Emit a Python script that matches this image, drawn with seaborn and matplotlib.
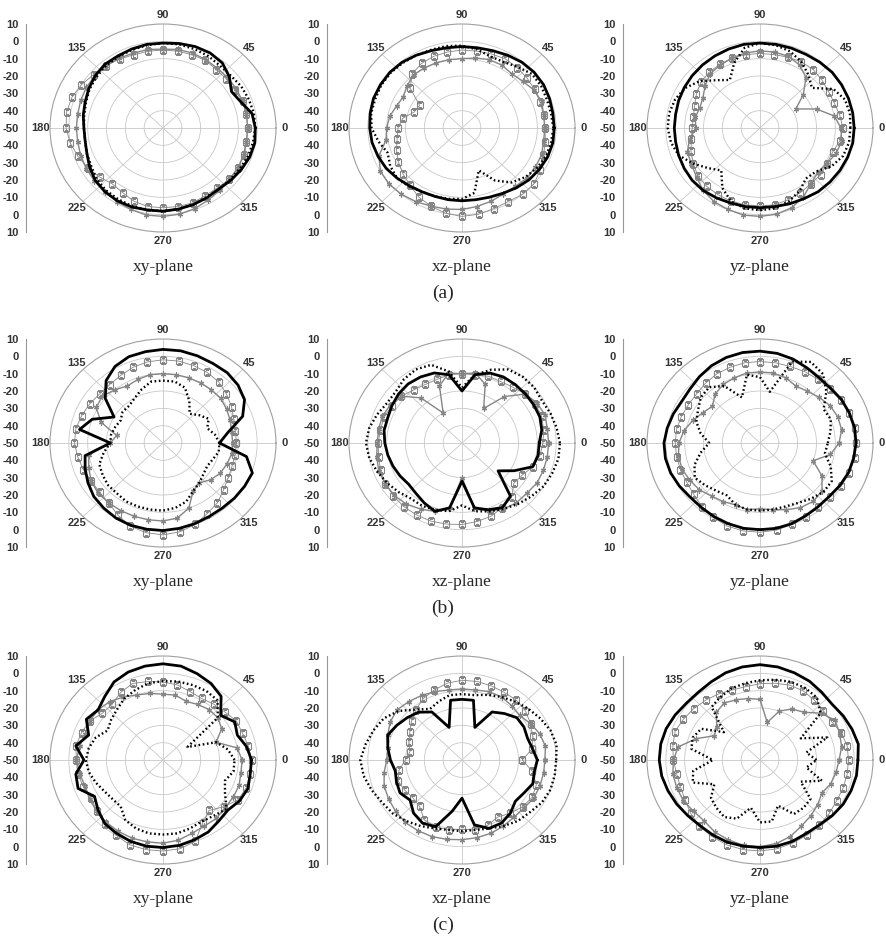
import numpy as np
import pandas as pd
import matplotlib
matplotlib.use('Agg')
import matplotlib.pyplot as plt
import seaborn as sns

# angles in degrees, one value every 10 degrees
angles = list(range(0, 360, 10))

# (a) radiation patterns, dB
a_xy_solid = [-1, -2, -6, -8, -4, -1, 0, 0, -0.5, -1, -1, -1.5, -2, -2, -3, -4.5, -6, -7, -8, -8,
              -7, -5, -3, -2, -1.5, -1.5, -2, -2, -2.5, -3, -3.5, -4, -3, -2, -1, -0.5]
a_xy_dotted = [-1, -1, -1.5, -2, -3, -3, -2, -1.5, -1, -1, -1.5, -2, -2.5, -3, -4, -5, -6.5, -7.5, -8, -8,
               -7, -6, -4, -3, -2.5, -2, -2, -2, -2.5, -3, -4, -4, -3.5, -3, -2, -1.5]
a_xy_squares = [-5, -5, -5, -6, -6, -6, -5, -5, -5, -5, -5, -5, -4, -3, -2, 0, 1.5, 2, 1.5, 0,
                -2, -4, -6, -8, -7, -5, -4, -4, -4, -4, -5, -5, -4, -4, -4, -5]
a_xy_stars = [-5, -5, -5, -5, -5, -5, -4.5, -4, -4, -4.5, -4, -4, -3.5, -3, -3, -3, -3.5, -4, -4, -4,
              -3.5, -3, -2.5, -2, -1, 0, 1, 1, 0.5, -0.5, -2, -3, -4, -4, -4.5, -5]

a_xz_solid = [-1, -1, -0.5, 0, 0, -0.5, -1.5, -2.5, -3, -3, -3, -2.5, -1.5, -0.5, 0, 0, 0, -0.5, -1, -1.5,
              -2.5, -3.5, -5, -6.5, -7.5, -8, -8, -8, -8, -7.5, -6.5, -5, -3.5, -2.5, -1.5, -1]
a_xz_dotted = [-1.5, -2, -2, -1.5, -1.5, -4, -6, -6, -4, -2.5, -2, -2, -1.5, -1, -0.5, -0.5, -1, -1, -2, -5,
               -8, -6, -5, -6, -7.5, -8, -8.5, -9, -12, -24, -15, -9, -6, -4, -2.5, -2]
a_xz_squares = [-6, -6, -6, -5.5, -5, -4.5, -4, -4.5, -5, -5, -5.5, -6, -7, -9, -14, -24, -23, -18, -16, -15,
                -13, -11, -9, -7, -4, -2, 0, 1, 0.5, -0.5, -1, 0, 0, -2, -4, -5]
a_xz_stars = [-6, -6, -5, -6, -8, -9, -8, -8, -9, -10, -10, -10, -10, -10, -12, -14, -13, -11, -10, -9,
              -3, 0, 0.5, 0, -1, -2, -2.5, -3, -4, -5, -6, -6, -5, -5, -5, -6]

a_yz_solid = [0, 0, 0, 0, 0, -0.5, -1, -1, -1, -1, -1, -1.5, -2, -2.5, -3, -3.5, -4, -4.5, -4.5, -4.5,
              -4, -3.5, -3, -3, -3.5, -4, -4, -4, -4, -3.5, -3, -2, -1.5, -1, -0.5, 0]
a_yz_dotted = [-2, -1.5, -2, -5, -14, -10, -6, -3, -1.5, -1, -3, -10, -18, -14, -8, -4, -2, -1, -1, -2,
               -4, -9, -14, -18, -10, -5, -3, -2.5, -3, -5, -8, -12, -11, -6, -3, -2]
a_yz_squares = [-6, -7, -8, -8, -7, -6, -6, -6.5, -7, -7, -7, -7, -7.5, -8, -9, -11, -13, -14, -14, -13,
                -11, -9, -7, -6, -5.5, -5, -5, -5, -5, -6, -7, -8, -8, -9, -9, -7]
a_yz_stars = [-7, -10, -18, -28, -20, -12, -8, -6, -5.5, -5.5, -6, -7, -8, -9, -12, -15, -16, -15, -16, -12,
              -9, -8, -6, -3, -1, 0, 1, 1, 0.5, -1, -4, -8, -10, -9, -7, -6]

# (b)
b_xy_solid = [-20, -15, -5, 0, 2, 3, 3, 3.5, 4, 4, 3.5, 3, 1, -3, -10, -20, -10, -5, -22, -8,
              -6, -4, -2, -1, 0, 0.5, 0.5, 0.5, 0, -0.5, -1, -1, -0.5, 0, 0.5, -5]
b_xy_dotted = [-20, -22, -25, -22, -25, -28, -22, -16, -14, -14, -14, -17, -20, -22, -22, -24, -23, -22, -22, -18,
               -14, -13, -12, -12, -11, -11, -11, -11, -12, -14, -18, -20, -22, -23, -22, -20]
b_xy_squares = [-11, -11, -10, -8, -6, -4, -3, -2.5, -2, -2, -2.5, -3.5, -5, -6, -6, -5, -4, -3, -3, -4,
                -5, -6, -6, -5, -2, 1, 2.5, 3, 2, 0, -3, -5, -8, -10, -11, -11]
b_xy_stars = [-13, -13, -12, -11, -10, -10, -10, -10, -10, -10, -10, -11, -12, -10, -8, -9, -15, -25, -22, -10,
              -8, -6, -5, -5, -5, -5, -5, -5, -6, -10, -18, -20, -17, -15, -14, -13]

b_xz_solid = [-9, -7, -6, -6, -6, -6, -6, -7, -10, -20, -10, -7, -6, -5.5, -6, -7, -8, -8, -9, -10,
              -11, -12, -13, -12, -10, -8, -12, -28, -12, -9, -7, -10, -25, -18, -10, -9]
b_xz_dotted = [2, 1, 0, -1, 0, 0, -1, -5, -10, -18, -8, -2, -1, -2, -4, -4, -2, 0, 1, 0,
               -2, -4, -6, -8, -8, -9, -10, -14, -10, -8, -6, -4, -2, 0, 1, 2]
b_xz_squares = [-7, -6, -5, -5, -6, -8, -9, -9, -10, -10, -10, -11, -11, -10, -8, -7, -6, -6, -5.5, -5,
                -4, -3, -2.5, -2, -2, -2, -2.5, -3, -4, -5, -7, -9, -14, -13, -10, -8]
b_xz_stars = [-4, -4, -3, -4, -6, -15, -27, -14, -9, -10, -9, -15, -30, -16, -8, -6, -5, -5, -5, -4,
              -3, -3, -3, -4, -6, -8, -12, -30, -12, -8, -6, -5, -5, -4, -4, -4]

b_yz_solid = [1, 1, 0.5, 0, -1, -1, 0, 1.5, 2.5, 3, 3, 2.5, 1.5, 0, -1.5, -2, -1, 0, 1, 1,
              0.5, -0.5, -1.5, -1.5, -1, -0.5, 0, 0, 0, -0.5, -1.5, -2, -2, -1, 0, 0.5]
b_yz_dotted = [-14, -12, -10, -11, -4, 2, 4, 0, -20, -12, -10, -22, -12, -8, -9, -12, -14, -18, -23, -18,
               -13, -10, -12, -14, -15, -12, -11, -11, -11, -11, -10, -8, -6, -6, -10, -15]
b_yz_squares = [1, 1, 0.5, -0.5, -1.5, -2, -2.5, -3, -3, -3, -3, -3.5, -4, -5, -6, -6, -5.5, -5, -5, -5,
                -5, -5, -4, -2, -0.5, 1, 1.5, 1.5, 1, 0, -1, -2, -1.5, -0.5, 0.5, 1]
b_yz_stars = [-8, -6, -6, -7, -9, -11, -12, -10, -9, -9, -9, -10, -11, -13, -17, -15, -12, -9, -7, -6,
              -6, -7, -8, -10, -11, -12, -11, -12, -11, -9, -7, -6, -7, -12, -20, -12]

# (c)
c_xy_solid = [-3, -5, -8, -6, -10, -2, 1, 3, 5, 5.5, 5, 4, 2, -2, -5, -3, -8, -3, -8, -3,
              -2, -8, -5, -2, -1, 0, 0.5, 0.5, 0, -1, -2, -4, -5, -3, -2, -3]
c_xy_dotted = [-12, -15, -20, -35, -12, -5, -4, -4, -4, -4.5, -5, -7, -9, -12, -14, -16, -12, -10, -9, -10,
               -12, -14, -15, -15, -10, -8, -7, -7, -7, -8, -9, -8, -6, -12, -15, -12]
c_xy_squares = [-3, -4, -5, -5, -7, -8, -9, -8, -6, -5, -4, -3, -5, -8, -8, -5, -4, -3, -4, -4,
                -5, -6, -4, -2, 0, 2, 2.5, 2.5, 2, 0, -8, -12, -8, -4, -3, -3]
c_xy_stars = [-8, -10, -20, -14, -12, -12, -13, -14, -12, -12, -11, -10, -8, -6, -5, -5, -6, -5, -4, -5,
              -6, -5, -4, -3, -2.5, -2, -2, -2, -3, -5, -6, -6, -7, -7, -7, -8]

c_xz_solid = [-10, -12, -13, -12, -12, -15, -18, -30, -15, -15, -15, -30, -18, -14, -12, -10, -8, -10, -12, -14,
              -13, -12, -14, -10, -8, -9, -20, -28, -12, -8, -8, -10, -13, -12, -10, -11]
c_xz_dotted = [0, 1, 0, -2, -4, -6, -8, -10, -12, -12, -12, -14, -16, -12, -6, -2, 0, 2, 4, 3,
               1, -1, -2, -4, -6, -8, -9, -9, -9, -8, -6, -4, -3, -1, 0, 0]
c_xz_squares = [-18, -12, -10, -8, -6, -5, -5, -4.5, -4, -4, -5, -7, -9, -12, -15, -18, -20, -22, -20, -16,
                -14, -15, -16, -15, -10, -9, -9, -10, -9, -10, -12, -10, -8, -7, -8, -12]
c_xz_stars = [-6, -5, -6, -8, -10, -9, -8, -8, -9, -9, -9, -8, -7, -6, -5, -6, -8, -10, -10, -8,
              -6, -5, -4, -3, -3, -3, -3.5, -4, -4.5, -5, -6, -7, -7, -6, -6, -6]

c_yz_solid = [2, 3, 2, 1, 0, 1, 2.5, 3.5, 4.5, 5, 4.5, 3.5, 2, 1, 1, 2, 3, 3.5, 3.5, 3,
              2, 1, 0, -0.5, 0, 0.5, 0.5, 0.5, 0.5, 0, -1, -1, 0, 1, 1.5, 2]
c_yz_dotted = [-20, -25, -12, -25, -8, -3, -2, -2, -3, -4, -5, -6, -8, -10, -25, -14, -12, -13, -25, -14,
               -12, -22, -16, -14, -12, -14, -22, -14, -14, -22, -14, -14, -15, -25, -15, -25]
c_yz_squares = [-3, -3, -4, -6, -6, -5, -4, -4, -5, -6, -7, -7, -6, -5, -4, -3, -2, -3, -4, -5,
                -5, -4, -2, 0, 1, 2, 2.5, 2.5, 2, 1, 0, -1, -2, -3, -3, -3]
c_yz_stars = [-8, -6, -5, -4, -8, -14, -16, -20, -28, -15, -14, -13, -12, -14, -20, -22, -14, -6, -4, -3,
              -3, -3, -4, -4, -2, -1, 0, 0, -1, -3, -6, -8, -10, -12, -10, -9]

rows = ['(a)', '(b)', '(c)']
planes = ['xy-plane', 'xz-plane', 'yz-plane']
panels = [
    [(a_xy_solid, a_xy_dotted, a_xy_squares, a_xy_stars),
     (a_xz_solid, a_xz_dotted, a_xz_squares, a_xz_stars),
     (a_yz_solid, a_yz_dotted, a_yz_squares, a_yz_stars)],
    [(b_xy_solid, b_xy_dotted, b_xy_squares, b_xy_stars),
     (b_xz_solid, b_xz_dotted, b_xz_squares, b_xz_stars),
     (b_yz_solid, b_yz_dotted, b_yz_squares, b_yz_stars)],
    [(c_xy_solid, c_xy_dotted, c_xy_squares, c_xy_stars),
     (c_xz_solid, c_xz_dotted, c_xz_squares, c_xz_stars),
     (c_yz_solid, c_yz_dotted, c_yz_squares, c_yz_stars)],
]

sns.set_style('white')
plt.rcParams['font.family'] = ['Liberation Sans', 'DejaVu Sans']

W, H = 886, 941
RX, RY = 113, 104
col_cx = [163, 462, 760]
col_axis = [26, 327, 623]
row_cy = [128, 443, 760]

gray = '#858585'
styles = [
    dict(color='black', lw=2.0),                                             # solid
    dict(color='black', lw=1.7, linestyle=(0, (0.7, 1.1))),                  # dotted
    dict(color=gray, lw=0.6, marker='s', markersize=3.8, markerfacecolor='none',
         markeredgecolor=gray, markeredgewidth=0.8),                         # squares
    dict(color=gray, lw=1.0, marker=(6, 2, 0), markersize=3.8,
         markeredgecolor=gray, markeredgewidth=0.9),                         # stars
]
draw_order = [2, 3, 1, 0]

fig = plt.figure(figsize=(W / 100, H / 100), dpi=100)

for i, cy in enumerate(row_cy):
    for j, cx in enumerate(col_cx):
        ax = fig.add_axes([(cx - RX) / W, 1 - (cy + RY) / H, 2 * RX / W, 2 * RY / H],
                          projection='polar')
        ax.set_aspect('auto')
        for k in draw_order:
            vals = panels[i][j][k]
            df = pd.DataFrame({'theta': np.deg2rad(angles + [360]), 'r': vals + vals[:1]})
            sns.lineplot(data=df, x='theta', y='r', ax=ax, sort=False, estimator=None, **styles[k])
        ax.set_ylim(-50, 10)
        ax.set_rticks([-40, -30, -20, -10, 0])
        ax.set_yticklabels([])
        ax.set_thetagrids(range(0, 360, 45), [str(a) for a in range(0, 360, 45)],
                          fontsize=8, fontweight='bold', color='#333333')
        ax.tick_params(axis='x', pad=-4)
        ax.grid(True, color='#c8c8c8', lw=0.6)
        ax.spines['polar'].set_color('#a0a0a0')
        ax.spines['polar'].set_linewidth(0.8)
        ax.set_xlabel('')
        ax.set_ylabel('')

        # linear dB scale on the left
        side = fig.add_axes([col_axis[j] / W, 1 - (cy + RY) / H, 0.0005, 2 * RY / H])
        side.patch.set_visible(False)
        for s in ['top', 'right', 'bottom']:
            side.spines[s].set_visible(False)
        side.spines['left'].set_color('#999999')
        side.spines['left'].set_linewidth(0.8)
        side.set_xticks([])
        side.set_ylim(-60, 60)
        side.set_yticks(range(-60, 61, 10))
        side.set_yticklabels([str(abs(v) - 50) for v in range(-60, 61, 10)],
                             fontsize=8, fontweight='bold', color='#333333')
        side.set_yticks(range(-55, 60, 10), minor=True)
        side.tick_params(axis='y', which='major', length=3, width=0.7, color='#999999', pad=2)
        side.tick_params(axis='y', which='minor', length=2, width=0.6, color='#999999')

        fig.text(cx / W, 1 - (cy + 139) / H, planes[j], ha='center', va='center',
                 fontsize=12.5, family='Liberation Serif')

    fig.text(443 / W, 1 - (row_cy[i] + 165) / H, rows[i], ha='center', va='center',
             fontsize=14, family='Liberation Serif')

fig.savefig('out.png', dpi=100)
